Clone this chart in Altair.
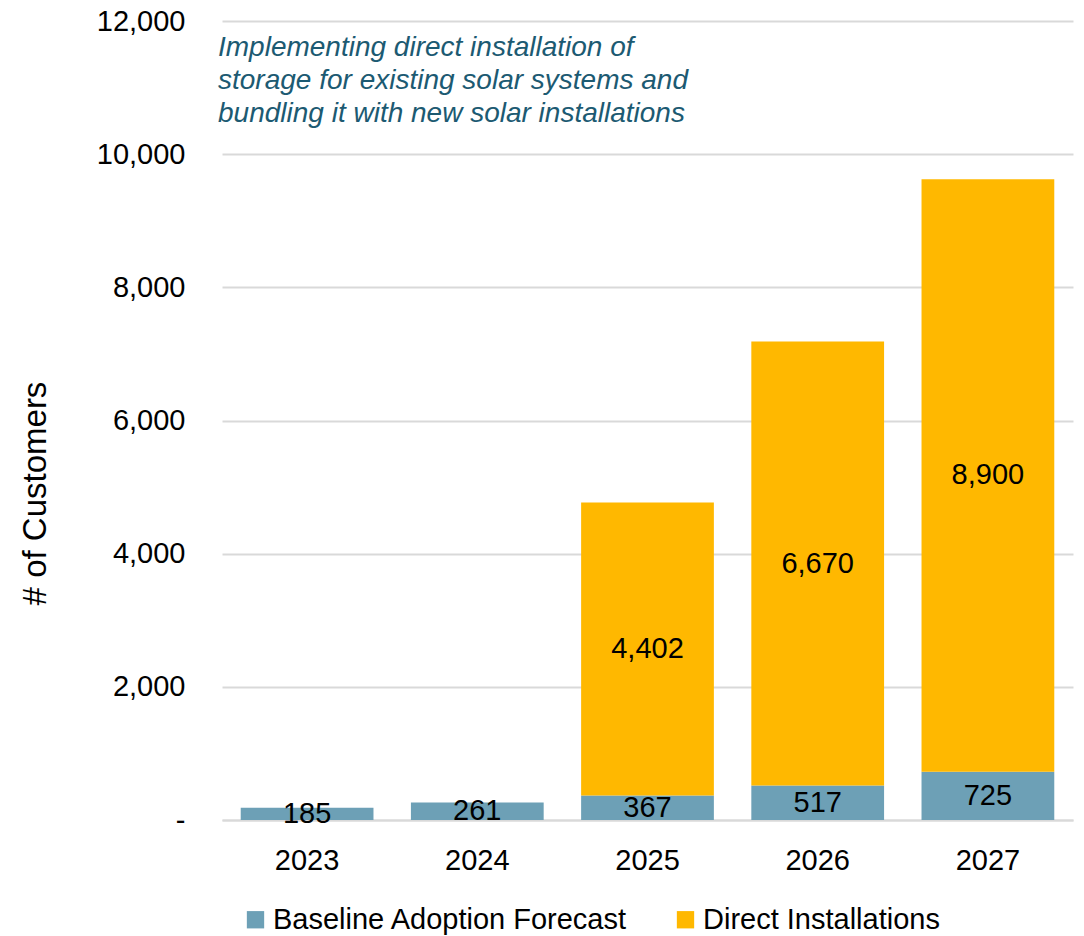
import altair as alt
import pandas as pd

years = ["2023", "2024", "2025", "2026", "2027"]
baseline = [185, 261, 367, 517, 725]
direct = [0, 0, 4402, 6670, 8900]
series_names = ["Baseline Adoption Forecast", "Direct Installations"]
series_colors = ["#6DA0B6", "#FFB800"]
note_lines = [
    "Implementing direct installation of",
    "storage for existing solar systems and",
    "bundling it with new solar installations",
]

rows = []
for i, y in enumerate(years):
    rows.append({"year": y, "series": series_names[0], "value": baseline[i], "ord": 0})
    rows.append({"year": y, "series": series_names[1], "value": direct[i], "ord": 1})
df = pd.DataFrame(rows)

FONT = "Liberation Sans"

base = alt.Chart(df).transform_stack(
    stack="value", groupby=["year"], as_=["y0", "y1"], sort=[alt.SortField("ord", order="ascending")]
).transform_calculate(mid="(datum.y0 + datum.y1) / 2")

xenc = alt.X(
    "year:N",
    sort=years,
    title=None,
    scale=alt.Scale(paddingInner=0.22, paddingOuter=0.11),
    axis=alt.Axis(
        labelFontSize=29, labelFont=FONT, labelColor="#000000", labelAngle=0,
        labelPadding=26, ticks=False, domainColor="#D9D9D9", domainWidth=2,
        grid=False,
    ),
)

bars = base.mark_bar().encode(
    x=xenc,
    y=alt.Y(
        "y0:Q",
        scale=alt.Scale(domain=[0, 12000], nice=False),
        title="# of Customers",
        axis=alt.Axis(
            values=[0, 2000, 4000, 6000, 8000, 10000, 12000],
            labelExpr="datum.value == 0 ? '-\u00a0\u00a0' : format(datum.value, ',')",
            labelFontSize=29, labelFont=FONT, labelColor="#000000",
            labelPadding=37, ticks=False, domain=False,
            gridColor="#D9D9D9", gridWidth=2,
            titleFontSize=33, titleFont=FONT, titleFontWeight="normal", titleColor="#000000",
            titleAngle=-90, titleX=-187, titleY=472, titleAlign="center", titleBaseline="middle",
        ),
    ),
    y2="y1:Q",
    color=alt.Color(
        "series:N",
        scale=alt.Scale(domain=series_names, range=series_colors),
        title=None,
        legend=alt.Legend(
            orient="none", legendX=19, legendY=884, direction="horizontal",
            symbolType="square", symbolSize=300, symbolStrokeWidth=0,
            labelFontSize=29, labelFont=FONT, labelColor="#000000", labelLimit=500,
            labelOffset=3, columnPadding=43,
        ),
    ),
    order=alt.Order("ord:Q"),
)

labels = base.transform_filter("datum.value > 0").mark_text(
    fontSize=29, font=FONT, color="#000000", baseline="middle", align="center"
).encode(
    x=alt.X("year:N", sort=years),
    y=alt.Y("mid:Q"),
    text=alt.Text("value:Q", format=","),
)

note = alt.Chart(pd.DataFrame({"k": [0]})).mark_text(
    text=note_lines, align="left", baseline="top", fontSize=28, font=FONT,
    fontStyle="italic", color="#1C5A72", lineHeight=33,
).encode(x=alt.value(-4), y=alt.value(13))

chart = alt.layer(bars, labels, note).properties(
    width=851, height=799,
    autosize=alt.AutoSizeParams(type="none"),
    padding={"left": 214, "top": 13, "right": 3, "bottom": 115},
).configure_view(stroke=None)

chart.save("out.html", embed_options={"renderer": "svg", "actions": False})
